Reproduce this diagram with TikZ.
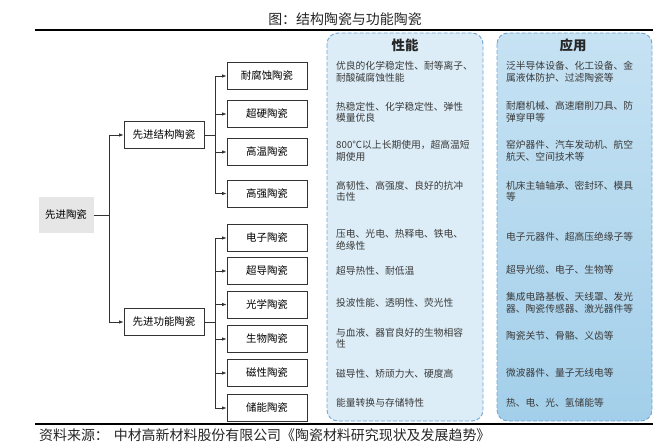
\documentclass[tikz,border=0pt]{standalone}
\usepackage{fontspec}
\setmainfont{Noto Sans CJK SC}
\usetikzlibrary{arrows.meta}
\definecolor{linec}{HTML}{333333}
\definecolor{txtc}{HTML}{3A3A3A}
\definecolor{dashc}{HTML}{6FA6D3}
\definecolor{pleft}{HTML}{DCEDF7}
\definecolor{prtop}{HTML}{C6E2F3}
\definecolor{prbot}{HTML}{A3CFEA}
\definecolor{rootc}{HTML}{E6E6E6}
\tikzset{
  catbox/.style={draw=linec, line width=0.8bp, minimum width=80bp, minimum height=27bp,
    inner sep=0pt, font=\fontsize{10.5}{12}\selectfont, text=black},
  rootbox/.style={fill=rootc, minimum width=55bp, minimum height=36bp, inner sep=0pt,
    font=\fontsize{10.5}{12}\selectfont},
  conn/.style={draw=linec, line width=0.8bp},
  arr/.style={conn, -{Latex[length=4.5bp,width=3.5bp]}},
  panel/.style={draw=dashc, line width=0.9bp, dash pattern=on 4bp off 2bp, rounded corners=11bp},
  ptext/.style={anchor=west, align=left, inner sep=0pt, text=txtc,
    font=\fontsize{9.8}{11.5}\selectfont},
  phead/.style={font=\fontsize{13.5}{15}\selectfont\bfseries, text=black!85},
  rule/.style={draw=black, line width=1.1bp}
}
\begin{document}
\begin{tikzpicture}[x=1bp,y=-1bp]
\useasboundingbox (0,0) rectangle (660,448);
\fill[white] (0,0) rectangle (660,448);

% title and rules
\node[font=\fontsize{14}{16}\selectfont, text=black!85] (title) at (345,19) {图：结构陶瓷与功能陶瓷};
\coordinate (r1a) at (35,30);
\coordinate (r1b) at (653,30);
\draw[rule] (r1a) -- (r1b);

% panels
\draw[panel, fill=pleft] (327,33) rectangle (483,421);
\draw[panel, top color=prtop, bottom color=prbot] (497,33) rectangle (652,421);
\node[phead] (h1) at (405,45) {性能};
\node[phead] (h2) at (573,45) {应用};

\coordinate (r2a) at (35,424);
\coordinate (r2b) at (653,424);
\draw[rule] (r2a) -- (r2b);
\node[anchor=west, inner sep=0pt, font=\fontsize{14}{15}\selectfont, text=black!85] (src) at (39,435)
  {资料来源：\hspace{0.35em}中材高新材料股份有限公司《陶瓷材料研究现状及发展趋势》};

% tree
\node[rootbox] (root) at (66,215) {先进陶瓷};
\node[catbox] (s) at (164,135) {先进结构陶瓷};
\node[catbox] (f) at (164,322) {先进功能陶瓷};

\node[catbox] (s1) at (267,76) {耐腐蚀陶瓷};
\node[catbox] (s2) at (267,114) {超硬陶瓷};
\node[catbox] (s3) at (267,152) {高温陶瓷};
\node[catbox] (s4) at (267,193.5) {高强陶瓷};

\node[catbox] (f1) at (267,238) {电子陶瓷};
\node[catbox] (f2) at (267,271) {超导陶瓷};
\node[catbox] (f3) at (267,304.5) {光学陶瓷};
\node[catbox] (f4) at (267,339) {生物陶瓷};
\node[catbox] (f5) at (267,373) {磁性陶瓷};
\node[catbox] (f6) at (267,408) {储能陶瓷};

\coordinate (j0) at (109,215);
\draw[conn] (root.east) -- (j0);
\draw[arr] (j0) |- (s);
\draw[arr] (j0) |- (f);

\coordinate (js) at (215,135);
\draw[conn] (s.east) -- (js);
\foreach \n in {s1,s2,s3,s4} \draw[arr] (js) |- (\n);

\coordinate (jf) at (215,322);
\draw[conn] (f.east) -- (jf);
\foreach \n in {f1,f2,f3,f4,f5,f6} \draw[arr] (jf) |- (\n);

% properties
\node[ptext] (p1) at (336,72) {优良的化学稳定性、耐等离子、\\耐酸碱腐蚀性能};
\node[ptext] (p2) at (336,112) {热稳定性、化学稳定性、弹性\\模量优良};
\node[ptext] (p3) at (336,151) {800℃以上长期使用，超高温短\\期使用};
\node[ptext] (p4) at (336,191) {高韧性、高强度、良好的抗冲\\击性};
\node[ptext] (p5) at (336,240) {压电、光电、热释电、铁电、\\绝缘性};
\node[ptext] (p6) at (336,271) {超导热性、耐低温};
\node[ptext] (p7) at (336,303) {投波性能、透明性、荧光性};
\node[ptext] (p8) at (336,338) {与血液、器官良好的生物相容\\性};
\node[ptext] (p9) at (336,374) {磁导性、矫顽力大、硬度高};
\node[ptext] (p10) at (336,403) {能量转换与存储特性};

% applications
\node[ptext] (a1) at (506,72) {泛半导体设备、化工设备、金\\属液体防护、过滤陶瓷等};
\node[ptext] (a2) at (506,112) {耐磨机械、高速磨削刀具、防\\弹穿甲等};
\node[ptext] (a3) at (506,151) {窑炉器件、汽车发动机、航空\\航天、空间技术等};
\node[ptext] (a4) at (506,191) {机床主轴轴承、密封环、模具\\等};
\node[ptext] (a5) at (506,237) {电子元器件、超高压绝缘子等};
\node[ptext] (a6) at (506,270) {超导光缆、电子、生物等};
\node[ptext] (a7) at (506,303) {集成电路基板、天线罩、发光\\器、陶瓷传感器、激光器件等};
\node[ptext] (a8) at (506,336) {陶瓷关节、骨骼、义齿等};
\node[ptext] (a9) at (506,373) {微波器件、量子无线电等};
\node[ptext] (a10) at (506,403) {热、电、光、氢储能等};
\end{tikzpicture}
\end{document}
